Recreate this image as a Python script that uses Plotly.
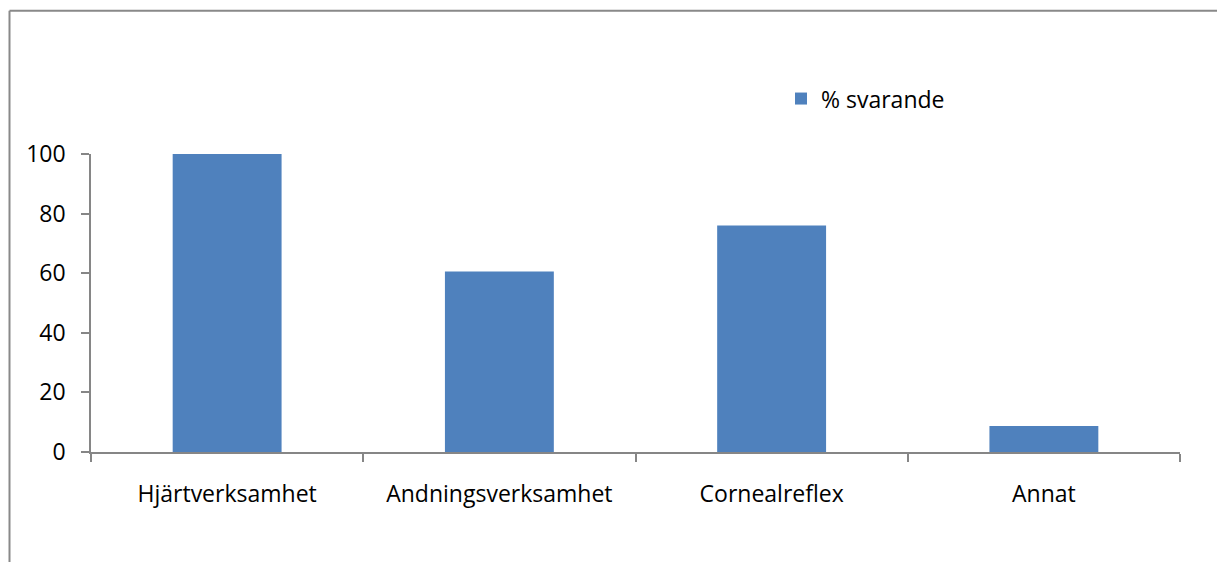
import plotly.graph_objects as go

categories = ["Hjärtverksamhet", "Andningsverksamhet", "Cornealreflex", "Annat"]
percent_responding = [100, 60.6, 76, 8.7]
series_name = "% svarande"
y_tick_values = [0, 20, 40, 60, 80, 100]

W, H = 1217, 562
L, R, T, B = 91, 37, 153.5, 110
plot_w = W - L - R
plot_h = H - T - B

def px_x(px):
    return (px - L) / plot_w

def px_y(py):
    return (H - B - py) / plot_h

AXIS_GREY = "#868686"
FONT = "Open Sans"
TEXT_SIZE = 23

fig = go.Figure()
fig.add_trace(go.Bar(
    x=categories,
    y=percent_responding,
    name=series_name,
    width=0.4,
    marker=dict(color="#4F81BD", line=dict(width=0)),
    showlegend=True,
))

# Outer chart frame (top and left edges)
frame = dict(color="#898989", width=2)
fig.add_shape(type="line", xref="paper", yref="paper",
              x0=px_x(9.5), x1=px_x(W + 5), y0=px_y(10), y1=px_y(10), line=frame)
fig.add_shape(type="line", xref="paper", yref="paper",
              x0=px_x(9.5), x1=px_x(9.5), y0=px_y(10), y1=px_y(H + 5), line=frame)

fig.update_layout(
    width=W, height=H,
    margin=dict(l=L, r=R, t=T, b=B, pad=0),
    paper_bgcolor="white",
    plot_bgcolor="white",
    font=dict(family=FONT, size=TEXT_SIZE, color="#000000"),
    bargap=0.6,
    showlegend=True,
    legend=dict(
        x=px_x(781), y=px_y(98), xanchor="left", yanchor="middle",
        bgcolor="rgba(0,0,0,0)", borderwidth=0,
        font=dict(family=FONT, size=TEXT_SIZE, color="#000000"),
        itemwidth=30,
    ),
    xaxis=dict(
        type="category",
        showline=True, linecolor=AXIS_GREY, linewidth=1.5,
        ticks="outside", ticklen=8, tickcolor=AXIS_GREY, tickwidth=1.5,
        tickson="boundaries",
        showgrid=False, zeroline=False,
        ticklabelstandoff=21,
        tickfont=dict(family=FONT, size=TEXT_SIZE, color="#000000"),
    ),
    yaxis=dict(
        range=[0, 100],
        tickmode="array", tickvals=y_tick_values,
        ticktext=[str(v) for v in y_tick_values],
        showline=True, linecolor=AXIS_GREY, linewidth=1.5,
        ticks="outside", ticklen=8, tickcolor=AXIS_GREY, tickwidth=1.5,
        showgrid=False, zeroline=False,
        ticklabelstandoff=11,
        tickfont=dict(family=FONT, size=TEXT_SIZE, color="#000000"),
    ),
)

fig.write_html("out.html")
